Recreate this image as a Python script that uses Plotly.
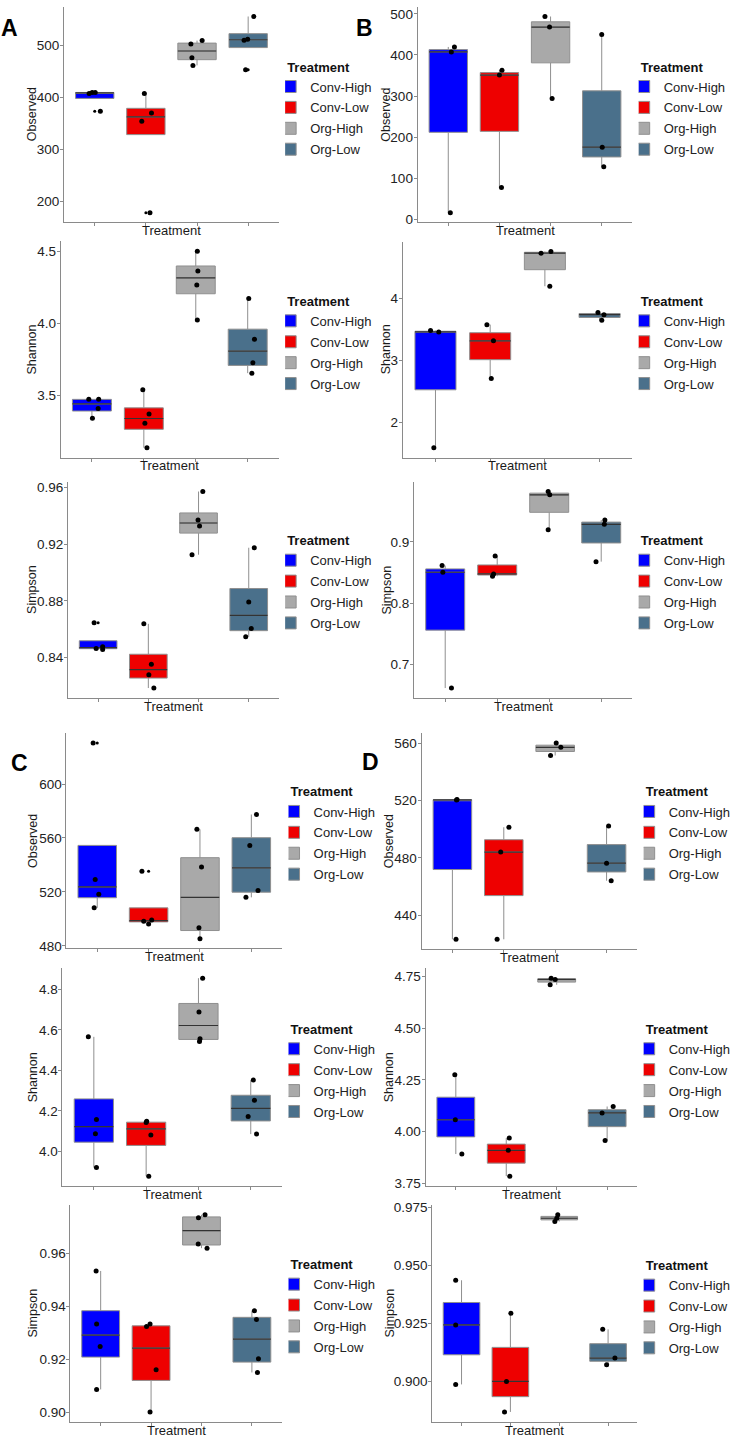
import plotly.graph_objects as go

# ---------------- data ----------------
groups = ["Conv-High", "Conv-Low", "Org-High", "Org-Low"]
fill_colors = ["#0000FF", "#EE0000", "#A9A9A9", "#4A708B"]

# Panel A - Observed
A_obs_q1 = [397.7, 328.0, 472.2, 495.5]
A_obs_med = [408.2, 362.0, 488.9, 510.6]
A_obs_q3 = [409.1, 378.6, 504.1, 522.3]
A_obs_lo = [397.7, 328.0, 461.2, 495.5]
A_obs_hi = [409.1, 407.2, 508.9, 555.3]
A_obs_pts = [[407.2, 409.1, 409.1, 372.9], [407.2, 369.7, 353.8, 177.8],
             [502.5, 508.9, 475.8, 461.2], [509.5, 511.4, 555.3, 453.0]]
A_obs_jit = [[-0.11, -0.05, 0.01, 0.11], [-0.03, 0.11, -0.08, 0.08],
             [-0.12, 0.10, -0.10, -0.08], [-0.08, -0.01, 0.11, -0.05]]
A_obs_out = [[372.9], [177.8], [], [453.0]]
A_obs_ticks = [200, 300, 400, 500]
A_obs_ticklabels = ["200", "300", "400", "500"]

# Panel B - Observed
B_obs_q1 = [211.7, 214.0, 380.8, 151.7]
B_obs_med = [407.4, 351.0, 467.8, 175.5]
B_obs_q3 = [413.0, 357.0, 480.7, 312.7]
B_obs_lo = [16.1, 77.3, 293.9, 128.0]
B_obs_hi = [419.5, 363.0, 493.6, 450.0]
B_obs_pts = [[419.5, 407.4, 16.1], [363.0, 351.0, 77.3],
             [493.6, 467.8, 293.9], [450.0, 175.5, 128.0]]
B_obs_jit = [[0.12, 0.06, 0.04], [0.05, 0.0, 0.04],
             [-0.11, -0.02, 0.03], [0.0, 0.01, 0.04]]
B_obs_out = [[], [], [], []]
B_obs_ticks = [0, 100, 200, 300, 400, 500]
B_obs_ticklabels = ["0", "100", "200", "300", "400", "500"]

# Panel A - Shannon
A_sh_q1 = [3.389, 3.262, 4.204, 3.706]
A_sh_med = [3.438, 3.337, 4.314, 3.806]
A_sh_q3 = [3.470, 3.411, 4.397, 3.958]
A_sh_lo = [3.339, 3.134, 4.021, 3.652]
A_sh_hi = [3.470, 3.537, 4.500, 4.171]
A_sh_pts = [[3.470, 3.470, 3.406, 3.339], [3.537, 3.369, 3.304, 3.134],
            [4.500, 4.362, 4.265, 4.021], [4.171, 3.887, 3.724, 3.652]]
A_sh_jit = [[-0.06, 0.13, 0.12, 0.01], [-0.02, 0.10, 0.02, 0.06],
            [0.03, 0.04, 0.02, 0.03], [0.02, 0.13, 0.10, 0.08]]
A_sh_out = [[], [], [], []]
A_sh_ticks = [3.5, 4.0, 4.5]
A_sh_ticklabels = ["3.5", "4.0", "4.5"]

# Panel B - Shannon
B_sh_q1 = [2.527, 3.011, 4.457, 3.689]
B_sh_med = [3.457, 3.314, 4.723, 3.734]
B_sh_q3 = [3.468, 3.444, 4.737, 3.753]
B_sh_lo = [1.596, 2.707, 4.191, 3.644]
B_sh_hi = [3.479, 3.574, 4.750, 3.771]
B_sh_pts = [[3.479, 3.457, 1.596], [3.574, 3.314, 2.707],
            [4.723, 4.750, 4.191], [3.771, 3.734, 3.644]]
B_sh_jit = [[-0.09, 0.06, -0.03], [-0.06, 0.06, 0.02],
            [-0.07, 0.11, 0.09], [-0.03, 0.08, 0.04]]
B_sh_out = [[], [], [], []]
B_sh_ticks = [2, 3, 4]
B_sh_ticklabels = ["2", "3", "4"]

# Panel A - Simpson
A_si_q1 = [0.8463, 0.8256, 0.9277, 0.8590]
A_si_med = [0.8471, 0.8316, 0.9348, 0.8698]
A_si_q3 = [0.8519, 0.8424, 0.9419, 0.8887]
A_si_lo = [0.8458, 0.8186, 0.9125, 0.8547]
A_si_hi = [0.8519, 0.8638, 0.9570, 0.9174]
A_si_pts = [[0.8465, 0.8477, 0.8458, 0.8645], [0.8638, 0.8353, 0.8279, 0.8186],
            [0.9570, 0.9369, 0.9327, 0.9125], [0.9174, 0.8791, 0.8605, 0.8547]]
A_si_jit = [[-0.04, 0.09, 0.09, -0.08], [-0.09, 0.06, 0.01, 0.11],
            [0.085, -0.01, 0.02, -0.13], [0.11, 0.0, 0.05, -0.06]]
A_si_out = [[0.8645], [], [], []]
A_si_ticks = [0.84, 0.88, 0.92, 0.96]
A_si_ticklabels = ["0.84", "0.88", "0.92", "0.96"]

# Panel B - Simpson
B_si_q1 = [0.7557, 0.8457, 0.9482, 0.8981]
B_si_med = [0.8503, 0.8476, 0.9768, 0.9286]
B_si_q3 = [0.8557, 0.8622, 0.9795, 0.9322]
B_si_lo = [0.6611, 0.8438, 0.9195, 0.8676]
B_si_hi = [0.8611, 0.8768, 0.9822, 0.9357]
B_si_pts = [[0.8611, 0.8503, 0.6611], [0.8768, 0.8476, 0.8438],
            [0.9822, 0.9768, 0.9195], [0.9357, 0.9286, 0.8676]]
B_si_jit = [[-0.06, -0.045, 0.12], [-0.04, -0.07, -0.09],
            [-0.02, 0.01, -0.02], [0.07, 0.06, -0.10]]
B_si_out = [[], [], [], []]
B_si_ticks = [0.7, 0.8, 0.9]
B_si_ticklabels = ["0.7", "0.8", "0.9"]

# Panel C - Observed
C_obs_q1 = [515.7, 497.8, 491.4, 519.8]
C_obs_med = [523.7, 498.75, 515.9, 537.8]
C_obs_q3 = [554.5, 508.2, 545.4, 560.2]
C_obs_lo = [508.2, 496.3, 485.4, 516.0]
C_obs_hi = [554.5, 508.2, 566.4, 577.4]
C_obs_pts = [[630.4, 529.2, 518.2, 508.2], [535.3, 498.3, 499.2, 496.3],
             [566.4, 538.4, 493.4, 485.4], [577.4, 554.5, 521.1, 516.0]]
C_obs_jit = [[-0.08, -0.04, 0.03, -0.06], [-0.13, -0.095, 0.06, 0.0],
             [-0.06, 0.03, -0.02, 0.0], [0.10, -0.03, 0.13, -0.105]]
C_obs_out = [[630.4], [535.3], [], []]
C_obs_ticks = [480, 520, 560, 600]
C_obs_ticklabels = ["480", "520", "560", "600"]

# Panel D - Observed
D_obs_q1 = [471.9, 453.7, 554.3, 470.2]
D_obs_med = [520.5, 484.1, 557.2, 476.3]
D_obs_q3 = [520.6, 492.7, 558.7, 489.3]
D_obs_lo = [423.2, 423.2, 551.5, 464.1]
D_obs_hi = [520.7, 501.4, 560.2, 502.3]
D_obs_pts = [[520.7, 520.5, 423.2], [501.4, 484.1, 423.2],
             [560.2, 557.2, 551.5], [502.3, 476.3, 464.1]]
D_obs_jit = [[0.09, 0.08, 0.07], [0.10, -0.06, -0.13],
             [0.02, 0.11, -0.09], [0.04, 0.0, 0.09]]
D_obs_out = [[], [], [], []]
D_obs_ticks = [440, 480, 520, 560]
D_obs_ticklabels = ["440", "480", "520", "560"]

# Panel C - Shannon
C_sh_q1 = [4.045, 4.029, 4.553, 4.150]
C_sh_med = [4.122, 4.111, 4.622, 4.212]
C_sh_q3 = [4.259, 4.144, 4.731, 4.277]
C_sh_lo = [3.920, 3.877, 4.543, 4.085]
C_sh_hi = [4.566, 4.148, 4.856, 4.352]
C_sh_pts = [[4.566, 4.157, 4.087, 3.920], [4.148, 4.142, 4.080, 3.877],
            [4.856, 4.689, 4.556, 4.543], [4.352, 4.252, 4.172, 4.085]]
C_sh_jit = [[-0.105, 0.05, 0.03, 0.05], [0.01, 0.0, 0.09, 0.05],
            [0.08, 0.01, 0.03, 0.02], [0.05, 0.07, -0.05, 0.11]]
C_sh_out = [[], [], [], []]
C_sh_ticks = [4.0, 4.2, 4.4, 4.6, 4.8]
C_sh_ticklabels = ["4.0", "4.2", "4.4", "4.6", "4.8"]

# Panel D - Shannon
D_sh_q1 = [3.974, 3.847, 4.723, 4.0235]
D_sh_med = [4.057, 3.909, 4.736, 4.090]
D_sh_q3 = [4.166, 3.939, 4.739, 4.1055]
D_sh_lo = [3.891, 3.784, 4.710, 3.957]
D_sh_hi = [4.275, 3.968, 4.742, 4.121]
D_sh_pts = [[4.275, 4.057, 3.891], [3.968, 3.909, 3.784],
            [4.742, 4.736, 4.710], [4.121, 4.090, 3.957]]
D_sh_jit = [[-0.02, -0.01, 0.12], [0.06, 0.04, 0.07],
            [-0.11, -0.03, -0.13], [0.12, -0.10, -0.04]]
D_sh_out = [[], [], [], []]
D_sh_ticks = [3.75, 4.00, 4.25, 4.50, 4.75]
D_sh_ticklabels = ["3.75", "4.00", "4.25", "4.50", "4.75"]

# Panel C - Simpson
C_si_q1 = [0.9209, 0.9121, 0.9632, 0.9190]
C_si_med = [0.9292, 0.9243, 0.9686, 0.9277]
C_si_q3 = [0.9384, 0.9327, 0.9738, 0.9359]
C_si_lo = [0.9087, 0.9002, 0.9620, 0.9151]
C_si_hi = [0.9534, 0.9334, 0.9746, 0.9384]
C_si_pts = [[0.9534, 0.9334, 0.9249, 0.9087], [0.9334, 0.9324, 0.9161, 0.9002],
            [0.9746, 0.9735, 0.9636, 0.9620], [0.9384, 0.9351, 0.9203, 0.9151]]
C_si_jit = [[-0.09, -0.08, -0.01, -0.08], [-0.02, -0.09, 0.10, -0.02],
            [0.07, -0.06, -0.065, 0.11], [0.05, 0.09, 0.13, 0.11]]
C_si_out = [[], [], [], []]
C_si_ticks = [0.90, 0.92, 0.94, 0.96]
C_si_ticklabels = ["0.90", "0.92", "0.94", "0.96"]

# Panel D - Simpson
D_si_q1 = [0.9114, 0.8933, 0.9697, 0.9086]
D_si_med = [0.9243, 0.8999, 0.9704, 0.9100]
D_si_q3 = [0.9340, 0.9146, 0.9712, 0.9162]
D_si_lo = [0.8986, 0.8867, 0.9690, 0.9071]
D_si_hi = [0.9436, 0.9293, 0.9719, 0.9224]
D_si_pts = [[0.9436, 0.9243, 0.8986], [0.9293, 0.8999, 0.8867],
            [0.9719, 0.9704, 0.9690], [0.9224, 0.9100, 0.9071]]
D_si_jit = [[-0.12, -0.12, -0.12], [0.01, -0.08, -0.12],
            [-0.03, -0.05, -0.09], [-0.11, 0.14, -0.03]]
D_si_out = [[], [], [], []]
D_si_ticks = [0.900, 0.925, 0.950, 0.975]
D_si_ticklabels = ["0.900", "0.925", "0.950", "0.975"]

# ---------------- layout geometry (pixels) ----------------
W, H = 736, 1442
FONT = "Liberation Sans, Arial, sans-serif"

panels = [
    ("A_obs", "Observed", A_obs_q1, A_obs_med, A_obs_q3, A_obs_lo, A_obs_hi, A_obs_pts, A_obs_jit, A_obs_out,
     A_obs_ticks, A_obs_ticklabels, (64.3, 280, 1.7, 219), 31.7, 286.3, 68),
    ("B_obs", "Observed", B_obs_q1, B_obs_med, B_obs_q3, B_obs_lo, B_obs_hi, B_obs_pts, B_obs_jit, B_obs_out,
     B_obs_ticks, B_obs_ticklabels, (419.3, 635, 1.7, 219), 386.7, 641.3, 68),
    ("A_sh", "Shannon", A_sh_q1, A_sh_med, A_sh_q3, A_sh_lo, A_sh_hi, A_sh_pts, A_sh_jit, A_sh_out,
     A_sh_ticks, A_sh_ticklabels, (61, 280, 238, 455.7), 32.3, 286.3, 304),
    ("B_sh", "Shannon", B_sh_q1, B_sh_med, B_sh_q3, B_sh_lo, B_sh_hi, B_sh_pts, B_sh_jit, B_sh_out,
     B_sh_ticks, B_sh_ticklabels, (404.3, 635, 238.3, 455.7), 387.3, 641.3, 304),
    ("A_si", "Simpson", A_si_q1, A_si_med, A_si_q3, A_si_lo, A_si_hi, A_si_pts, A_si_jit, A_si_out,
     A_si_ticks, A_si_ticklabels, (68.3, 280, 480, 697.7), 32.3, 286.3, 545),
    ("B_si", "Simpson", B_si_q1, B_si_med, B_si_q3, B_si_lo, B_si_hi, B_si_pts, B_si_jit, B_si_out,
     B_si_ticks, B_si_ticklabels, (415.7, 635, 480, 697.7), 388.3, 641.3, 545),
    ("C_obs", "Observed", C_obs_q1, C_obs_med, C_obs_q3, C_obs_lo, C_obs_hi, C_obs_pts, C_obs_jit, C_obs_out,
     C_obs_ticks, C_obs_ticklabels, (66.7, 283.3, 733.3, 950), 33.3, 289.7, 798),
    ("D_obs", "Observed", D_obs_q1, D_obs_med, D_obs_q3, D_obs_lo, D_obs_hi, D_obs_pts, D_obs_jit, D_obs_out,
     D_obs_ticks, D_obs_ticklabels, (423.3, 640, 733.3, 950.7), 390.7, 646.3, 798),
    ("C_sh", "Shannon", C_sh_q1, C_sh_med, C_sh_q3, C_sh_lo, C_sh_hi, C_sh_pts, C_sh_jit, C_sh_out,
     C_sh_ticks, C_sh_ticklabels, (62.7, 283.3, 970, 1189.3), 33.3, 289.7, 1037),
    ("D_sh", "Shannon", D_sh_q1, D_sh_med, D_sh_q3, D_sh_lo, D_sh_hi, D_sh_pts, D_sh_jit, D_sh_out,
     D_sh_ticks, D_sh_ticklabels, (427.3, 640, 970, 1189.3), 390.7, 646.3, 1037),
    ("C_si", "Simpson", C_si_q1, C_si_med, C_si_q3, C_si_lo, C_si_hi, C_si_pts, C_si_jit, C_si_out,
     C_si_ticks, C_si_ticklabels, (70.7, 283.3, 1208.3, 1426.7), 33.3, 289.7, 1274),
    ("D_si", "Simpson", D_si_q1, D_si_med, D_si_q3, D_si_lo, D_si_hi, D_si_pts, D_si_jit, D_si_out,
     D_si_ticks, D_si_ticklabels, (434, 640, 1208.3, 1426.7), 391.7, 646.3, 1275),
]

letters = [("A", 9.5, 23), ("B", 366, 23), ("C", 20, 763), ("D", 372, 762)]

BOX_W = 0.75
fig = go.Figure()
annotations = []
layout = dict(
    width=W, height=H, margin=dict(l=0, r=0, t=0, b=0),
    paper_bgcolor="white", plot_bgcolor="white",
    font=dict(family=FONT, size=13, color="#1a1a1a"),
    boxmode="overlay", hovermode=False,
)

for i, (name, metric, q1, med, q3, lo, hi, pts, jit, out, ticks, ticklabels,
        box, ytx, leg_left, leg_title_y) in enumerate(panels):
    n = i + 1
    xa = "x" if n == 1 else f"x{n}"
    ya = "y" if n == 1 else f"y{n}"
    leg = "legend" if n == 1 else f"legend{n}"
    l, r, t, b = box

    allv = [v for grp in pts for v in grp]
    vmin, vmax = min(allv), max(allv)
    pad = 0.05 * (vmax - vmin)
    yr = [vmin - pad, vmax + pad]

    for k, g in enumerate(groups):
        pos = k + 1
        fig.add_trace(go.Box(
            x=[pos], q1=[q1[k]], median=[med[k]], q3=[q3[k]],
            lowerfence=[lo[k]], upperfence=[hi[k]], orientation="v",
            width=BOX_W, whiskerwidth=0, boxpoints=False,
            fillcolor=fill_colors[k], line=dict(color="#8f8f8f", width=1),
            name=g, legend=leg, legendgroup=f"{name}-{g}", showlegend=True,
            xaxis=xa, yaxis=ya, hoverinfo="skip",
        ))
    for k, g in enumerate(groups):
        pos = k + 1
        fig.add_trace(go.Scatter(
            x=[pos - BOX_W / 2, pos + BOX_W / 2], y=[med[k], med[k]], mode="lines",
            line=dict(color="#333333", width=1.2), showlegend=False,
            xaxis=xa, yaxis=ya, hoverinfo="skip",
        ))
        if out[k]:
            fig.add_trace(go.Scatter(
                x=[pos] * len(out[k]), y=out[k], mode="markers",
                marker=dict(color="black", size=3), showlegend=False,
                xaxis=xa, yaxis=ya, hoverinfo="skip",
            ))
        fig.add_trace(go.Scatter(
            x=[pos + j for j in jit[k]], y=pts[k], mode="markers",
            marker=dict(color="black", size=5), showlegend=False,
            xaxis=xa, yaxis=ya, hoverinfo="skip",
        ))

    axis_common = dict(showgrid=False, zeroline=False, showline=True, linecolor="#8a8a8a",
                       linewidth=1, ticks="outside", ticklen=3, tickcolor="#8a8a8a",
                       fixedrange=True)
    layout["xaxis" if n == 1 else f"xaxis{n}"] = dict(
        domain=[l / W, r / W], anchor=ya, range=[0.4, 4.6],
        tickvals=[1, 2, 3, 4], ticktext=["", "", "", ""], **axis_common)
    layout["yaxis" if n == 1 else f"yaxis{n}"] = dict(
        domain=[1 - b / H, 1 - t / H], anchor=xa, range=yr,
        tickvals=ticks, ticktext=ticklabels, ticklabelstandoff=-2,
        tickfont=dict(size=13.5, color="#222222"), **axis_common)

    layout[leg] = dict(
        title=dict(text="<b>Treatment</b>", font=dict(size=13, color="#111111")),
        x=leg_left / W, xanchor="left", y=1 - (leg_title_y - 18) / H, yanchor="top",
        font=dict(size=13, color="#222222"), bgcolor="rgba(0,0,0,0)",
        indentation=-15, tracegroupgap=1, itemclick=False, itemdoubleclick=False,
    )

    annotations.append(dict(text=metric, x=ytx / W, y=1 - (t + b) / 2 / H, xref="paper", yref="paper",
                            textangle=-90, showarrow=False, xanchor="center", yanchor="middle",
                            font=dict(size=12.5, color="#1a1a1a")))
    annotations.append(dict(text="Treatment", x=(l + r) / 2 / W, y=1 - (b + 8.5) / H, xref="paper", yref="paper",
                            showarrow=False, xanchor="center", yanchor="middle",
                            font=dict(size=13, color="#1a1a1a")))

for txt, lx, ly in letters:
    annotations.append(dict(text=f"<b>{txt}</b>", x=lx / W, y=1 - ly / H, xref="paper", yref="paper",
                            showarrow=False, xanchor="center", yanchor="middle",
                            font=dict(size=23, color="black")))

layout["annotations"] = annotations
fig.update_layout(**layout)
fig.write_html("out.html")
